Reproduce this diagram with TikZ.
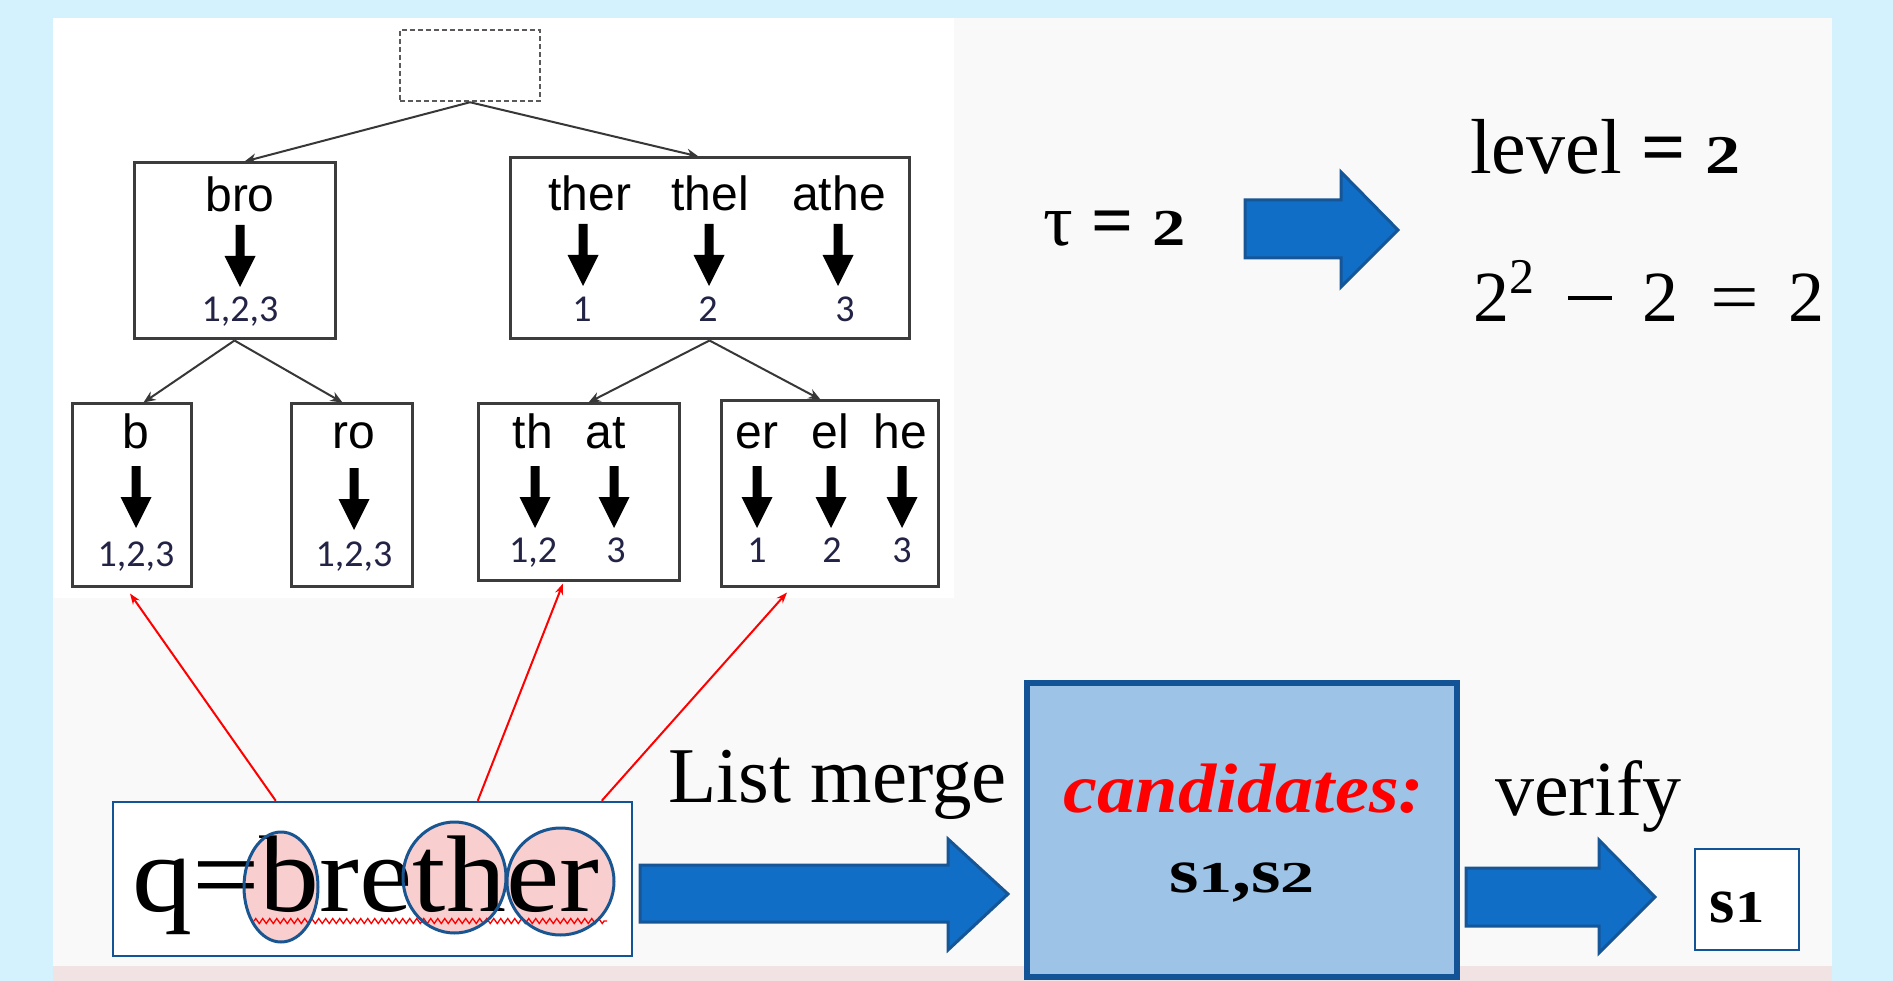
\documentclass[tikz,border=0pt]{standalone}
\usepackage{fontspec}
\usepackage{graphicx}
\setmainfont{Liberation Serif}
\newfontfamily\treefont{Liberation Sans}
\newfontfamily\numfont{Carlito}
\usetikzlibrary{arrows.meta,decorations.pathmorphing,calc}
\definecolor{bgblue}{RGB}{212,242,253}
\definecolor{panelgray}{RGB}{249,249,249}
\definecolor{pinkstrip}{RGB}{241,227,228}
\definecolor{treeline}{RGB}{60,60,60}
\definecolor{edgegray}{RGB}{55,55,55}
\definecolor{rootgray}{RGB}{90,90,90}
\definecolor{numcol}{RGB}{35,35,70}
\definecolor{boxblue}{RGB}{18,84,150}
\definecolor{candfill}{RGB}{157,195,230}
\definecolor{arrfill}{RGB}{16,110,198}
\definecolor{arredge}{RGB}{22,86,150}
\definecolor{elfill}{RGB}{248,206,206}
\definecolor{eledge}{RGB}{25,85,145}
\newcommand{\osn}[1]{\scalebox{0.9}[0.7]{#1}}
\tikzset{
  treebox/.style={draw=treeline, line width=3pt, fill=white, inner sep=0pt},
  rootbox/.style={draw=rootgray, line width=2.5pt, dash pattern=on 5pt off 3pt, inner sep=0pt},
  treeedge/.style={draw=edgegray, line width=2pt, -{Stealth[length=12pt,width=10pt]}},
  redarr/.style={draw=red, line width=2pt, -{Stealth[length=11pt,width=8pt]}},
  treetxt/.style={font=\treefont\fontsize{48}{48}\selectfont, anchor=base, inner sep=0pt},
  treenum/.style={font=\numfont\fontsize{38}{38}\selectfont, text=numcol, anchor=base, inner sep=0pt},
  serif/.style={anchor=base west, inner sep=0pt},
  blockarrow/.style={fill=arrfill, draw=arredge, line width=3pt, line join=miter},
  darrow/.pic={\fill[black] (-4.5,0) -- (4.5,0) -- (4.5,31) -- (15.5,31) -- (0,62) -- (-15.5,31) -- (-4.5,31) -- cycle;}
}
\begin{document}
\begin{tikzpicture}[x=1pt,y=-1pt]
\useasboundingbox (0,0) rectangle (1893,981);
\fill[bgblue] (0,0) rectangle (1893,981);
\fill[panelgray] (53,18) rectangle (1832,966);
\fill[white] (53,18) rectangle (954,598);
\fill[pinkstrip] (53,966) rectangle (1832,981);

% tree boxes
\node[rootbox, minimum width=140pt, minimum height=71pt] (root) at (470,65.5) {};
\node[treebox, minimum width=201pt, minimum height=176pt] (bro) at (234.5,251) {};
\node[treebox, minimum width=399pt, minimum height=181pt] (ther) at (709.5,248.5) {};
\node[treebox, minimum width=119pt, minimum height=182pt] (nb) at (131.5,495) {};
\node[treebox, minimum width=121pt, minimum height=182pt] (nro) at (351.5,495) {};
\node[treebox, minimum width=201pt, minimum height=176pt] (nthat) at (578.5,492) {};
\node[treebox, minimum width=217pt, minimum height=185pt] (ner) at (829.5,493.5) {};

% tree connectors
\draw[treeedge] (root.south) -- ([xshift=10pt]bro.north);
\draw[treeedge] (root.south) -- ([xshift=-11pt]ther.north);
\draw[treeedge] (bro.south) -- ([xshift=12pt]nb.north);
\draw[treeedge] (bro.south) -- ([xshift=-9pt]nro.north);
\draw[treeedge] (ther.south) -- ([xshift=10pt]nthat.north);
\draw[treeedge] (ther.south) -- ([xshift=-9pt]ner.north);

% level 1 contents
\node[treetxt] (tbro) at (240,212) {bro};
\pic at (240,225) {darrow};
\node[treenum] (nbro) at (240,322) {1,2,3};

\node[treetxt] (tther) at (590,211) {ther};
\node[treetxt] (tthel) at (710,211) {thel};
\node[treetxt] (tathe) at (839,211) {athe};
\pic at (583,224) {darrow};
\pic at (709,224) {darrow};
\pic at (838,224) {darrow};
\node[treenum] (nther) at (582,322) {1};
\node[treenum] (nthel) at (708,322) {2};
\node[treenum] (nathe) at (845,322) {3};

% level 2 contents
\node[treetxt] (tb) at (136,448) {b};
\node[treetxt] (tro) at (354,448) {ro};
\node[treetxt] (tth) at (533,448) {th};
\node[treetxt] (tat) at (606,448) {at};
\node[treetxt] (ter) at (757,448) {er};
\node[treetxt] (tel) at (830,448) {el};
\node[treetxt] (the) at (900,448) {he};
\pic at (136,466) {darrow};
\pic at (354,468) {darrow};
\pic at (535,466) {darrow};
\pic at (614,466) {darrow};
\pic at (757,466) {darrow};
\pic at (831,466) {darrow};
\pic at (902,466) {darrow};
\node[treenum] (nub) at (136,566) {1,2,3};
\node[treenum] (nuro) at (354,566) {1,2,3};
\node[treenum] (nuth) at (533,562) {1,2};
\node[treenum] (nuat) at (616,562) {3};
\node[treenum] (nuer) at (757,562) {1};
\node[treenum] (nuel) at (832,562) {2};
\node[treenum] (nuhe) at (902,562) {3};

% query box
\node[draw=boxblue, line width=2.5pt, fill=white, inner sep=0pt, minimum width=519pt, minimum height=154pt] (q) at (372.5,879) {};
\fill[elfill] (281,887) ellipse [x radius=37pt, y radius=55pt];
\fill[elfill] (454.5,877.5) ellipse [x radius=51.5pt, y radius=55.5pt];
\fill[elfill] (560.5,881.5) ellipse [x radius=53.5pt, y radius=53.5pt];
\draw[red, line width=1.3pt, decorate, decoration={zigzag, amplitude=2.5pt, segment length=7pt}] (254,921) -- (607,921);
\node[serif] (qtext) at (132,911) {\fontsize{109}{109}\selectfont\scalebox{1.1}[1]{q=brether}};
\draw[eledge, line width=3pt] (281,887) ellipse [x radius=37pt, y radius=55pt];
\draw[eledge, line width=3pt] (454.5,877.5) ellipse [x radius=51.5pt, y radius=55.5pt];
\draw[eledge, line width=3pt] (560.5,881.5) ellipse [x radius=53.5pt, y radius=53.5pt];

% red arrows
\draw[redarr] ([xshift=164pt]q.north west) -- ([shift={(-1.5pt,-6pt)}]nb.south);
\draw[redarr] ([xshift=366pt]q.north west) -- ([shift={(-15.5pt,-2pt)}]nthat.south);
\draw[redarr] ([xshift=490pt]q.north west) -- ([shift={(-42.5pt,-5pt)}]ner.south);

% tau and level
\node[serif] (tau) at (1043,246) {\fontsize{74}{74}\selectfont τ \textbf{= \osn{2}}};
\draw[blockarrow] (1245,200) -- (1341,200) -- (1341,172) -- (1398,230) -- (1341,287) -- (1341,258) -- (1245,258) -- cycle;
\node[serif] (level) at (1470,174) {\fontsize{78}{78}\selectfont level \textbf{= \osn{2}}};
\node[serif] (formula) at (1473,322) {\fontsize{72}{72}\selectfont 2\raisebox{28pt}{\fontsize{50}{50}\selectfont 2}\hspace{34pt}\rule[22pt]{44pt}{3.5pt}\hspace{30pt}2\hspace{32pt}\scalebox{1.2}[1]{=}\hspace{30pt}2};

% bottom flow
\node[serif] (listmerge) at (668,802) {\fontsize{79}{79}\selectfont List merge};
\draw[blockarrow] (640,865) -- (948,865) -- (948,839) -- (1008,894) -- (948,950) -- (948,922) -- (640,922) -- cycle;
\node[draw=boxblue, line width=6pt, fill=candfill, inner sep=0pt, minimum width=430pt, minimum height=294pt] (cand) at (1242,830) {};
\node[anchor=base, inner sep=0pt, text=red] (candt) at (1244,812) {\fontsize{70}{70}\selectfont\bfseries\itshape\scalebox{1.09}[1]{candidates:}};
\node[anchor=base, inner sep=0pt] (cands) at (1242,892) {\fontsize{63}{63}\selectfont\bfseries\scalebox{1.2}[1]{s\osn{1},s\osn{2}}};
\node[serif] (verify) at (1495,815) {\fontsize{78}{78}\selectfont verify};
\draw[blockarrow] (1466,868) -- (1599,868) -- (1599,840) -- (1655,897) -- (1599,953) -- (1599,926) -- (1466,926) -- cycle;
\node[draw=boxblue, line width=2.5pt, fill=white, inner sep=0pt, minimum width=104pt, minimum height=101pt] (res) at (1747,899.5) {};
\node[anchor=base, inner sep=0pt] (rest) at (1737,922) {\fontsize{65}{65}\selectfont\bfseries s\osn{1}};
\end{tikzpicture}
\end{document}
